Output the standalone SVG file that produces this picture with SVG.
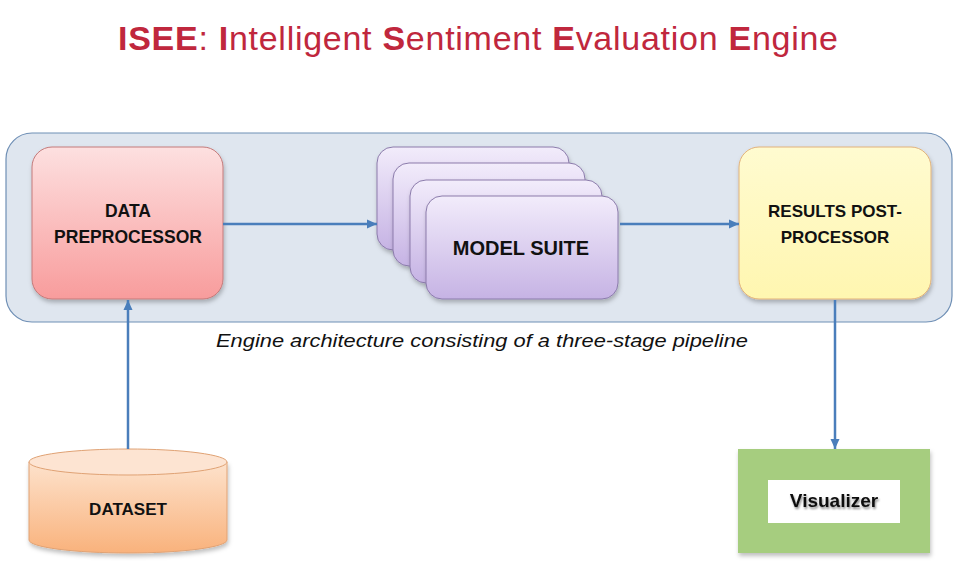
<svg xmlns="http://www.w3.org/2000/svg" width="959" height="578" viewBox="0 0 959 578">
<defs>
<style>
.title{font-family:"Liberation Sans",Arial,sans-serif;font-size:34px;fill:#c0273d}
.b{font-weight:bold}
.lbl{font-family:"Liberation Sans",Arial,sans-serif;font-size:17px;font-weight:bold;fill:#111;text-anchor:middle}
.cap{font-family:"Liberation Sans",Arial,sans-serif;font-size:18px;font-style:italic;fill:#111}
.conn{stroke:#4a7ebb;stroke-width:2.5;fill:none;marker-end:url(#ah)}
.card{fill:url(#gPurple);stroke:#8b7bab;stroke-width:1}
</style>
<linearGradient id="gRed" x1="0" y1="0" x2="0" y2="1"><stop offset="0" stop-color="#fde0e0"/><stop offset="1" stop-color="#f89c9c"/></linearGradient>
<linearGradient id="gPurple" x1="0" y1="0" x2="0" y2="1"><stop offset="0" stop-color="#f2ecfb"/><stop offset="1" stop-color="#c6b3e4"/></linearGradient>
<linearGradient id="gYellow" x1="0" y1="0" x2="0" y2="1"><stop offset="0" stop-color="#fffbd0"/><stop offset="1" stop-color="#fff6b0"/></linearGradient>
<linearGradient id="gOrange" x1="0" y1="0" x2="0" y2="1"><stop offset="0" stop-color="#fde2cc"/><stop offset="1" stop-color="#f9b27c"/></linearGradient>
<filter id="sh" x="-10%" y="-10%" width="130%" height="130%"><feDropShadow dx="1" dy="3" stdDeviation="2" flood-color="#000" flood-opacity="0.25"/></filter>
<filter id="tsh" x="-10%" y="-20%" width="130%" height="160%"><feDropShadow dx="1" dy="2" stdDeviation="1" flood-color="#000" flood-opacity="0.45"/></filter>
<marker id="ah" markerUnits="userSpaceOnUse" markerWidth="10" markerHeight="10" refX="10" refY="5" orient="auto"><path d="M0,0.5 L10,5 L0,9.5 Z" fill="#4a7ebb"/></marker>
</defs>
<rect width="959" height="578" fill="#ffffff"/>

<g id="title">
<text class="title" x="118" y="50" textLength="720" lengthAdjust="spacing"><tspan class="b">ISEE</tspan>: <tspan class="b">I</tspan>ntelligent  <tspan class="b">S</tspan>entiment  <tspan class="b">E</tspan>valuation  <tspan class="b">E</tspan>ngine</text>
</g>

<g id="engine">
<rect x="6" y="133" width="946" height="189" rx="26" ry="26" fill="#dfe6ef" stroke="#6f8fb5" stroke-width="1.2"/>
<text class="cap" x="216" y="347" textLength="532" lengthAdjust="spacingAndGlyphs">Engine architecture consisting of a three-stage pipeline</text>
</g>

<g id="data-preprocessor">
<rect x="32" y="147" width="191" height="152" rx="20" ry="20" fill="url(#gRed)" stroke="#c47a7a" stroke-width="1" filter="url(#sh)"/>
<text class="lbl" x="128" y="217" style="font-size:17.5px">DATA</text>
<text class="lbl" x="128" y="243" style="font-size:17.5px">PREPROCESSOR</text>
</g>

<g id="model-suite">
<rect class="card" x="377" y="147" width="192" height="103" rx="16" ry="16" filter="url(#sh)"/>
<rect class="card" x="393" y="163" width="192" height="103" rx="16" ry="16" filter="url(#sh)"/>
<rect class="card" x="410" y="180" width="192" height="103" rx="16" ry="16" filter="url(#sh)"/>
<rect class="card" x="426" y="196" width="192" height="103" rx="16" ry="16" filter="url(#sh)"/>
<text class="lbl" x="521" y="255" style="font-size:20px">MODEL SUITE</text>
</g>

<g id="results-postprocessor">
<rect x="739" y="147" width="192" height="152" rx="20" ry="20" fill="url(#gYellow)" stroke="#e2b27a" stroke-width="1" filter="url(#sh)"/>
<text class="lbl" x="835" y="217">RESULTS POST-</text>
<text class="lbl" x="835" y="243">PROCESSOR</text>
</g>

<g id="dataset">
<path d="M29,462 L29,540 A99,13 0 0 0 227,540 L227,462 Z" fill="url(#gOrange)" stroke="#e0a274" stroke-width="1" filter="url(#sh)"/>
<ellipse cx="128" cy="462" rx="99" ry="13" fill="#fde4d2" stroke="#e0a274" stroke-width="1"/>
<text class="lbl" x="128" y="515">DATASET</text>
</g>

<g id="visualizer">
<rect x="738" y="449" width="192" height="104" fill="#a6cd7f" filter="url(#sh)"/>
<rect x="768" y="480" width="132" height="43" fill="#ffffff"/>
<text class="lbl" x="834" y="507" style="font-size:19px" filter="url(#tsh)">Visualizer</text>
</g>

<g id="connectors">
<line class="conn" x1="223" y1="224" x2="377" y2="224"/>
<line class="conn" x1="620" y1="224" x2="739" y2="224"/>
<line class="conn" x1="128" y1="449" x2="128" y2="300"/>
<line class="conn" x1="835" y1="300" x2="835" y2="449"/>
</g>
</svg>
